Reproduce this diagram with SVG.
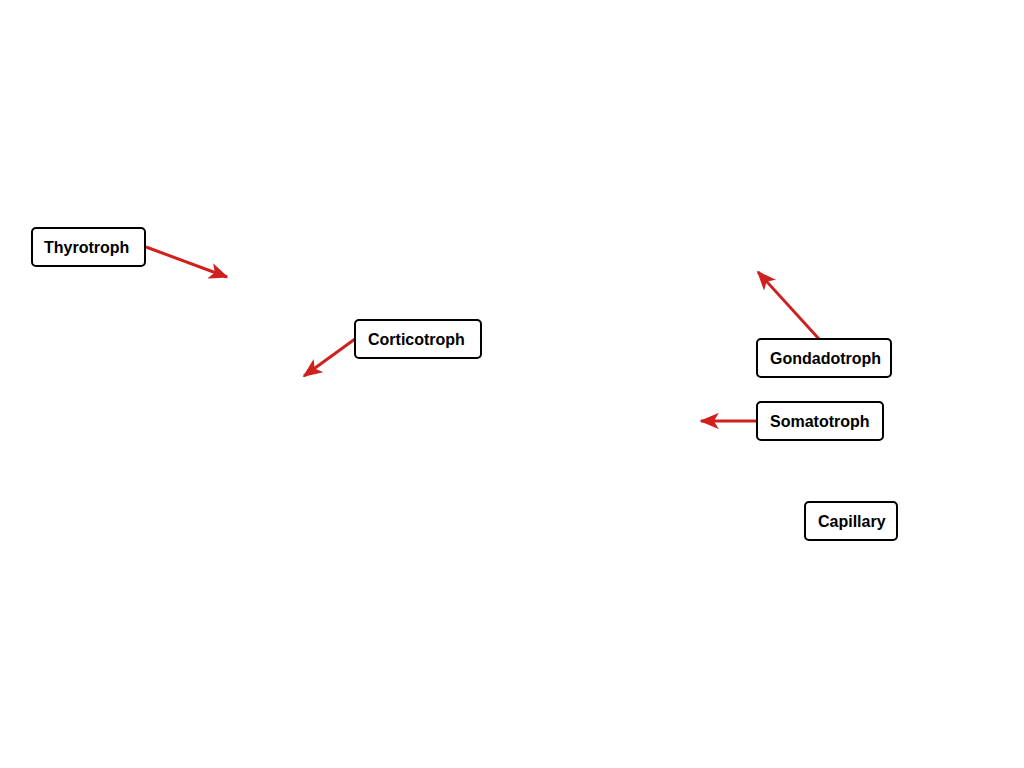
<svg xmlns="http://www.w3.org/2000/svg" width="1024" height="768" viewBox="0 0 1024 768">
<defs>
<style>
.box{fill:#fff;stroke:#000;stroke-width:2}
.lbl{font-family:"Liberation Sans",Arial,sans-serif;font-weight:bold;font-size:16px;fill:#000}
.con{stroke:#d0201e;stroke-width:3;fill:none;marker-end:url(#ah)}
</style>
<marker id="ah" viewBox="0 0 12 10" refX="11" refY="5" markerWidth="6.5" markerHeight="5.4" orient="auto" markerUnits="strokeWidth">
<path d="M0,0 L12,5 L0,10 L3,5 Z" fill="#d0201e"/>
</marker>
</defs>
<rect width="1024" height="768" fill="#fff"/>
<g id="connectors">
<line class="con" x1="146" y1="247" x2="227" y2="277"/>
<line class="con" x1="355" y1="339" x2="304" y2="376"/>
<line class="con" x1="819" y1="339" x2="758" y2="272"/>
<line class="con" x1="757" y1="421" x2="701" y2="421"/>
</g>
<g id="thyrotroph"><rect class="box" x="32" y="228" width="113" height="38" rx="4"/><text class="lbl" x="44" y="253">Thyrotroph</text></g>
<g id="corticotroph"><rect class="box" x="355" y="320" width="126" height="38" rx="4"/><text class="lbl" x="368" y="345">Corticotroph</text></g>
<g id="gondadotroph"><rect class="box" x="757" y="339" width="134" height="38" rx="4"/><text class="lbl" x="770" y="364">Gondadotroph</text></g>
<g id="somatotroph"><rect class="box" x="757" y="402" width="126" height="38" rx="4"/><text class="lbl" x="770" y="427">Somatotroph</text></g>
<g id="capillary"><rect class="box" x="805" y="502" width="92" height="38" rx="4"/><text class="lbl" x="818" y="527">Capillary</text></g>
</svg>
